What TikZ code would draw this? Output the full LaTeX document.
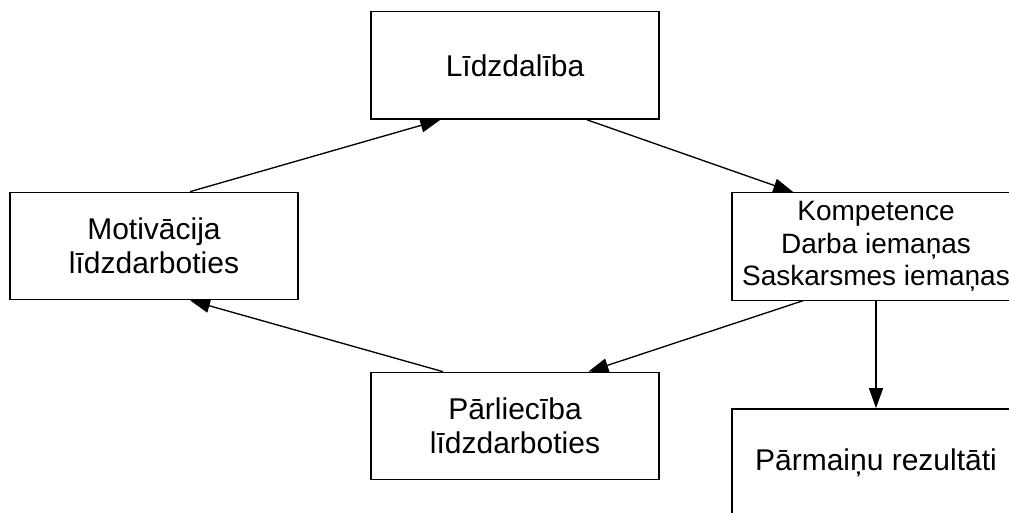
\documentclass[tikz,border=0pt]{standalone}
\usepackage{fontspec}
\setmainfont{Liberation Sans}
\usetikzlibrary{arrows.meta, positioning}

\begin{document}
\begin{tikzpicture}[x=0.75pt, y=-0.75pt,
        box/.style={rectangle, draw=black, fill=white, line width=1pt, minimum width=216pt, minimum height=80.5pt, inner sep=0pt, align=center, font=\fontsize{22.5}{25.5}\selectfont},
        smallbox/.style={box, font=\fontsize{21}{24.5}\selectfont},
        arr/.style={-{Triangle[length=15pt, width=10.5pt]}, line width=1pt}
    ]
        \useasboundingbox (0,0) rectangle (1009,513);

        \node[box] (lid) at (515,65.5) {Līdzdalība};
        \node[box] (mot) at (154,246) {Motivācija\\līdzdarboties};
        \node[smallbox] (kom) at (876,246.5) {Kompetence\\Darba iemaņas\\Saskarsmes iemaņas};
        \node[box] (par) at (515,426) {Pārliecība\\līdzdarboties};
        \node[box] (rez) at (876,462.5) {Pārmaiņu rezultāti};

        \draw[arr] ([xshift=27pt]mot.north) -- ([xshift=-56pt]lid.south);
        \draw[arr] ([xshift=54pt]lid.south) -- ([xshift=-62pt]kom.north);
        \draw[arr] ([xshift=-55pt]kom.south) -- ([xshift=55pt]par.north);
        \draw[arr] ([xshift=-54pt]par.north) -- ([xshift=27pt]mot.south);
        \draw[arr] (kom.south) -- (rez.north);
    \end{tikzpicture}
\end{document}
